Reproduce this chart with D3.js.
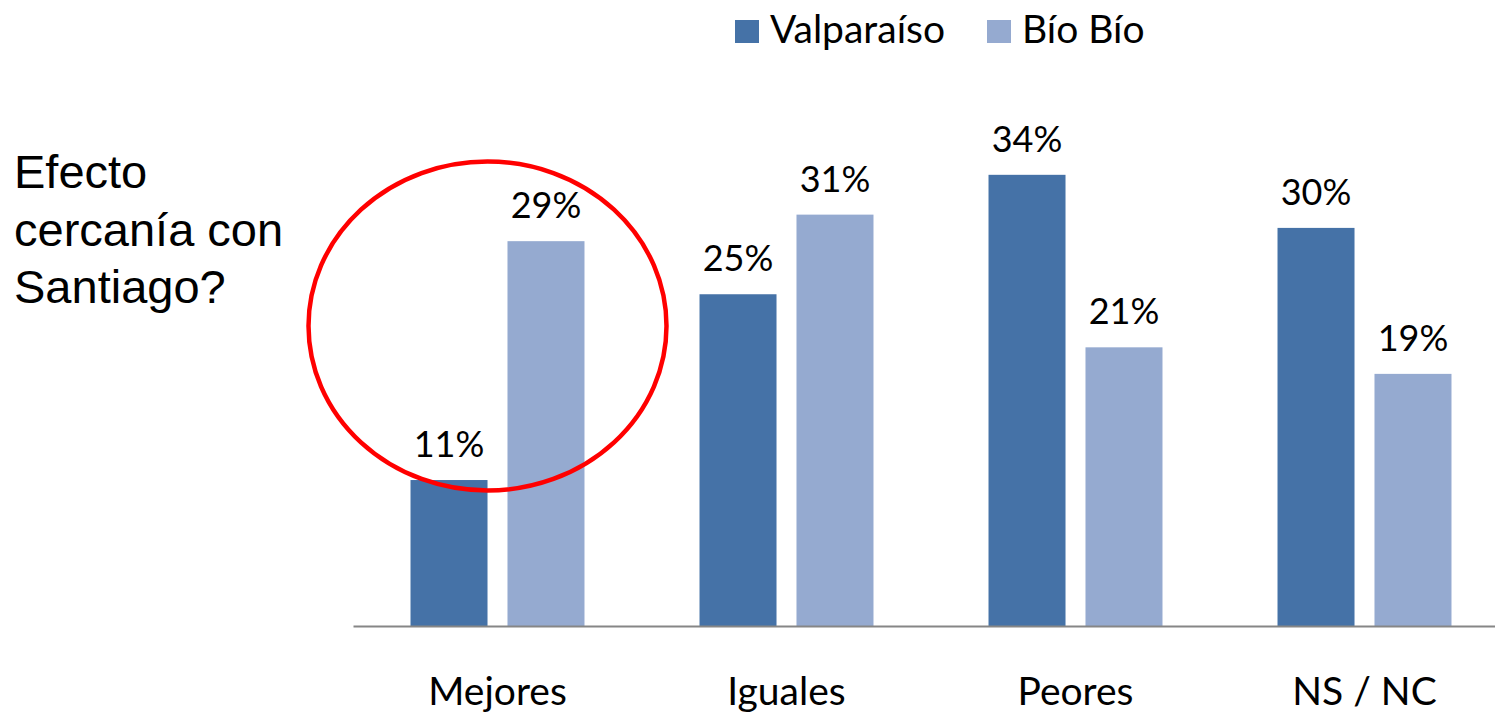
<!DOCTYPE html>
<html>
<head>
<meta charset="utf-8">
<script src="https://cdn.jsdelivr.net/npm/d3@7"></script>
<style>
  body { margin: 0; background: #fff; }
  svg { display: block; }
</style>
</head>
<body>
<div id="chart"></div>
<script>
var width = 1495;
var height = 713;

var categories = ["Mejores", "Iguales", "Peores", "NS / NC"];
var series = ["Valparaíso", "Bío Bío"];
var valparaiso = [11, 25, 34, 30];
var bioBio = [29, 31, 21, 19];
var colors = ["#4572a7", "#95aad0"];
var titleLines = ["Efecto", "cercanía con", "Santiago?"];

var data = categories.map(function(c, i) {
  return {cat: c, values: [valparaiso[i], bioBio[i]]};
});

var svg = d3.select("#chart")
  .append("svg")
  .attr("width", width)
  .attr("height", height);

var baseline = 626;

var x0 = d3.scaleBand()
  .domain(categories)
  .range([353, 1509])
  .paddingInner(0.398)
  .paddingOuter(0.199);

var x1 = d3.scaleBand()
  .domain(series)
  .range([0, x0.bandwidth()])
  .paddingInner(0.206);

var y = d3.scaleLinear()
  .domain([0, 40])
  .range([baseline, baseline - 40 * 13.27]);

// bars
var groups = svg.selectAll(".group")
  .data(data)
  .enter()
  .append("g")
    .attr("class", "group")
    .attr("transform", function(d) { return `translate(${x0(d.cat)},0)`; });

groups.selectAll("rect")
  .data(function(d) { return d.values.map(function(v, i) { return {s: series[i], v: v, i: i}; }); })
  .enter()
  .append("rect")
    .attr("x", function(d) { return x1(d.s); })
    .attr("y", function(d) { return y(d.v); })
    .attr("width", x1.bandwidth())
    .attr("height", function(d) { return baseline - y(d.v); })
    .attr("fill", function(d) { return colors[d.i]; });

groups.selectAll("text")
  .data(function(d) { return d.values.map(function(v, i) { return {s: series[i], v: v}; }); })
  .enter()
  .append("text")
    .attr("x", function(d) { return x1(d.s) + x1.bandwidth() / 2; })
    .attr("y", function(d) { return y(d.v) - 23; })
    .attr("text-anchor", "middle")
    .attr("font-family", "Lato, sans-serif")
    .attr("font-size", 36)
    .attr("fill", "#000")
    .text(function(d) { return d.v + "%"; });

// x axis
var xAxis = svg.append("g")
  .attr("transform", `translate(0,${baseline})`)
  .call(d3.axisBottom(x0).tickSize(0).tickPadding(0));

xAxis.select(".domain")
  .attr("stroke", "#868686")
  .attr("stroke-width", 2);

xAxis.selectAll("text")
  .attr("font-family", "Lato, sans-serif")
  .attr("font-size", 39)
  .attr("fill", "#000")
  .attr("dy", null)
  .attr("y", 79);

// legend
var legendX = [735, 987];
var legend = svg.selectAll(".legend")
  .data(series)
  .enter()
  .append("g")
    .attr("class", "legend")
    .attr("transform", function(d, i) { return `translate(${legendX[i]},20)`; });

legend.append("rect")
  .attr("width", 24)
  .attr("height", 23)
  .attr("fill", function(d, i) { return colors[i]; });

legend.append("text")
  .attr("x", 35)
  .attr("y", 23)
  .attr("font-family", "Lato, sans-serif")
  .attr("font-size", 39)
  .attr("fill", "#000")
  .text(function(d) { return d; });

// side title
svg.append("text")
  .attr("font-family", "'Liberation Sans', Arial, sans-serif")
  .attr("font-size", 47)
  .attr("fill", "#000")
  .selectAll("tspan")
  .data(titleLines)
  .enter()
  .append("tspan")
    .attr("x", 14)
    .attr("y", function(d, i) { return 188 + i * 57.5; })
    .text(function(d) { return d; });

// highlight ring around Mejores
svg.append("ellipse")
  .attr("cx", 487.5)
  .attr("cy", 326)
  .attr("rx", 179)
  .attr("ry", 164.5)
  .attr("fill", "none")
  .attr("stroke", "#ff0000")
  .attr("stroke-width", 4.5);
</script>
</body>
</html>
